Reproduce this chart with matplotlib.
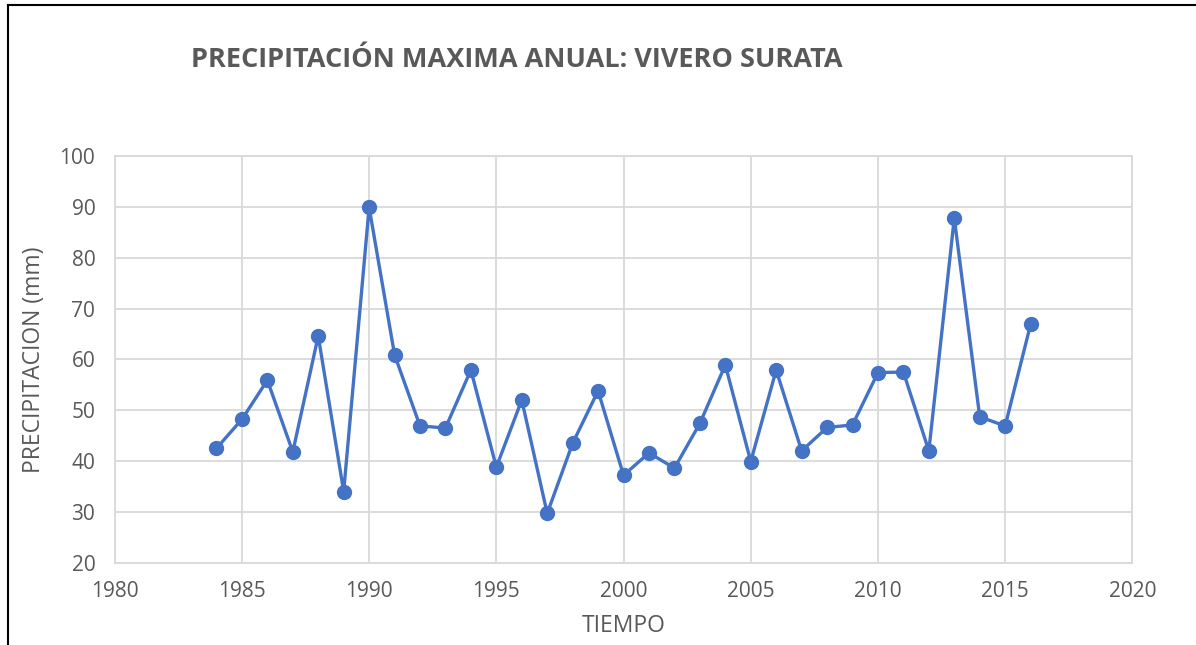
import matplotlib.pyplot as plt
from matplotlib.lines import Line2D

# data
years = [1984, 1985, 1986, 1987, 1988, 1989, 1990, 1991, 1992, 1993, 1994,
         1995, 1996, 1997, 1998, 1999, 2000, 2001, 2002, 2003, 2004, 2005,
         2006, 2007, 2008, 2009, 2010, 2011, 2012, 2013, 2014, 2015, 2016]
precip = [42.5, 48.2, 55.9, 41.8, 64.6, 34.0, 89.9, 60.9, 46.9, 46.5, 57.9,
          38.8, 52.0, 29.7, 43.5, 53.8, 37.2, 41.6, 38.6, 47.4, 58.9, 39.9,
          57.9, 42.0, 46.6, 47.1, 57.4, 57.5, 42.0, 87.8, 48.7, 46.9, 66.9]
x_ticks = list(range(1980, 2021, 5))
y_ticks = list(range(20, 101, 10))

plt.rcParams['font.family'] = ['Open Sans', 'DejaVu Sans']
gray = '#595959'
grid = '#d9d9d9'
blue = '#4472C4'

fig = plt.figure(figsize=(11.96, 6.45), dpi=100)
ax = fig.add_axes([0.0959, 0.1276, 0.8509, 0.6305])

ax.plot(years, precip, color=blue, lw=2.4, marker='o', ms=10,
        markerfacecolor=blue, markeredgecolor=blue, zorder=3)

ax.set_xlim(1980, 2020)
ax.set_ylim(20, 100)
ax.set_xticks(x_ticks)
ax.set_yticks(y_ticks)
ax.grid(True, color=grid, lw=1.3)
ax.set_axisbelow(True)
for s in ax.spines.values():
    s.set_color(grid)
    s.set_linewidth(1.3)
ax.tick_params(length=0, labelsize=15, labelcolor=gray)
ax.tick_params(axis='y', pad=14)
ax.tick_params(axis='x', pad=13)

ax.set_xlabel('TIEMPO', fontsize=16.5, color=gray, labelpad=9)
ax.set_ylabel('PRECIPITACION (mm)', fontsize=16.5, color=gray, labelpad=10)

fig.text(0.4319, 0.907, 'PRECIPITACIÓN MAXIMA ANUAL: VIVERO SURATA',
         ha='center', va='center', fontsize=19.5, fontweight='bold', color=gray)

# outer frame (left and top edges visible)
fig.add_artist(Line2D([8 / 1196, 8 / 1196], [0, 1 - 5 / 645],
                      transform=fig.transFigure, color='black', lw=1.5))
fig.add_artist(Line2D([8 / 1196, 1], [1 - 5 / 645, 1 - 5 / 645],
                      transform=fig.transFigure, color='black', lw=1.5))

fig.savefig('out.png', dpi=100)
